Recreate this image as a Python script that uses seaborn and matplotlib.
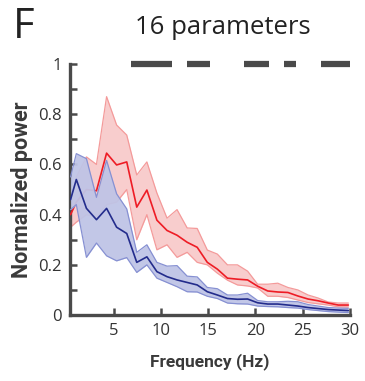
import numpy as np
import pandas as pd
import matplotlib
matplotlib.use('Agg')
import matplotlib.pyplot as plt
import seaborn as sns

# frequency bins (Hz)
freqs = [0.45, 1.06, 2.13, 3.19, 4.26, 5.32, 6.39, 7.45, 8.52, 9.58, 10.65,
         11.71, 12.78, 13.84, 14.91, 15.97, 17.04, 18.1, 19.17, 20.23, 21.3,
         22.36, 23.43, 24.49, 25.56, 26.62, 27.69, 28.75, 29.82]

red_mean = [0.40, 0.45, 0.50, 0.495, 0.645, 0.598, 0.61, 0.43, 0.498, 0.378, 0.337,
            0.318, 0.29, 0.27, 0.21, 0.183, 0.147, 0.143, 0.14, 0.115, 0.096,
            0.092, 0.09, 0.076, 0.064, 0.057, 0.048, 0.04, 0.04]
red_upper = [0.46, 0.55, 0.63, 0.60, 0.87, 0.757, 0.717, 0.558, 0.61, 0.486, 0.386,
             0.42, 0.347, 0.345, 0.259, 0.243, 0.20, 0.20, 0.175, 0.123, 0.123,
             0.127, 0.11, 0.10, 0.08, 0.068, 0.052, 0.048, 0.048]
red_lower = [0.35, 0.37, 0.40, 0.39, 0.44, 0.45, 0.50, 0.30, 0.40, 0.26, 0.28,
             0.23, 0.25, 0.21, 0.20, 0.167, 0.139, 0.12, 0.116, 0.108, 0.075,
             0.075, 0.07, 0.06, 0.05, 0.045, 0.04, 0.033, 0.032]

blue_mean = [0.46, 0.54, 0.425, 0.38, 0.425, 0.35, 0.325, 0.21, 0.232, 0.173, 0.153,
             0.14, 0.13, 0.12, 0.093, 0.08, 0.066, 0.063, 0.064, 0.049, 0.044,
             0.044, 0.04, 0.036, 0.03, 0.026, 0.022, 0.02, 0.018]
blue_upper = [0.55, 0.643, 0.623, 0.469, 0.616, 0.483, 0.423, 0.25, 0.28, 0.21, 0.195,
              0.197, 0.155, 0.152, 0.11, 0.105, 0.08, 0.08, 0.087, 0.058, 0.053,
              0.053, 0.055, 0.053, 0.042, 0.036, 0.03, 0.028, 0.027]
blue_lower = [0.42, 0.44, 0.23, 0.287, 0.236, 0.216, 0.229, 0.17, 0.20, 0.147, 0.13,
              0.113, 0.093, 0.092, 0.075, 0.066, 0.048, 0.045, 0.044, 0.036, 0.034,
              0.033, 0.03, 0.028, 0.022, 0.018, 0.014, 0.012, 0.01]

# significance bars at the top (Hz ranges)
sig_start = [6.8, 12.8, 18.8, 23.0, 26.9]
sig_end = [11.2, 15.2, 21.4, 24.3, 30.0]

sns.set_style('ticks')
plt.rcParams['font.family'] = ['Open Sans', 'DejaVu Sans']

df = pd.DataFrame({'freq': freqs, 'red': red_mean, 'blue': blue_mean})

fig = plt.figure(figsize=(3.65, 3.81), dpi=100)
ax = fig.add_axes([0.192, 0.173, 0.767, 0.659])

axis_col = '#4a4a4a'

# red condition
ax.fill_between(freqs, red_lower, red_upper, color='#f8cdcd', lw=0, zorder=1)
ax.plot(freqs, red_upper, color='#f49a9a', lw=0.9, zorder=2)
ax.plot(freqs, red_lower, color='#f49a9a', lw=0.9, zorder=2)
sns.lineplot(data=df, x='freq', y='red', color='#ee1c25', lw=1.2, ax=ax, zorder=3)

# blue condition (drawn on top, nearly opaque)
ax.fill_between(freqs, blue_lower, blue_upper, color='#bfc4e6', alpha=0.95,
                lw=0, zorder=4)
ax.plot(freqs, blue_upper, color='#8690d2', lw=0.9, zorder=5)
ax.plot(freqs, blue_lower, color='#8690d2', lw=0.9, zorder=5)
sns.lineplot(data=df, x='freq', y='blue', color='#232c8c', lw=1.2, ax=ax, zorder=6)

for s, e in zip(sig_start, sig_end):
    ax.plot([s, e], [1, 1], color=axis_col, lw=4.5, solid_capstyle='butt',
            clip_on=False)

ax.set_xlim(0.4, 30)
ax.set_ylim(0, 1)
ax.set_xticks([5, 10, 15, 20, 25, 30])
ax.set_yticks([0, 0.2, 0.4, 0.6, 0.8, 1])
ax.set_yticklabels(['0', '0.2', '0.4', '0.6', '0.8', '1'])
ax.set_yticks(np.arange(0.1, 1.0, 0.2), minor=True)
ax.tick_params(axis='both', which='both', direction='in', color=axis_col,
               width=1.8, length=5, labelsize=12, labelcolor='#333333', pad=6)
ax.tick_params(axis='y', which='minor', length=5)

sns.despine(ax=ax)
for side in ['left', 'bottom']:
    ax.spines[side].set_color(axis_col)
    ax.spines[side].set_linewidth(2.4)

ax.set_xlabel('Frequency (Hz)', family=['Roboto', 'DejaVu Sans'],
              fontweight='bold', fontsize=12.5, color='#3a3a3a', labelpad=10)
ax.set_ylabel('Normalized power', family=['Roboto', 'DejaVu Sans'],
              fontweight='bold', fontsize=15.5, color='#3a3a3a', labelpad=4)

fig.text(0.035, 0.9, 'F', fontsize=30, color='#222222')
fig.text(0.61, 0.91, '16 parameters', fontsize=18.5, color='#222222',
         ha='center')

fig.savefig('out.png', dpi=100)
